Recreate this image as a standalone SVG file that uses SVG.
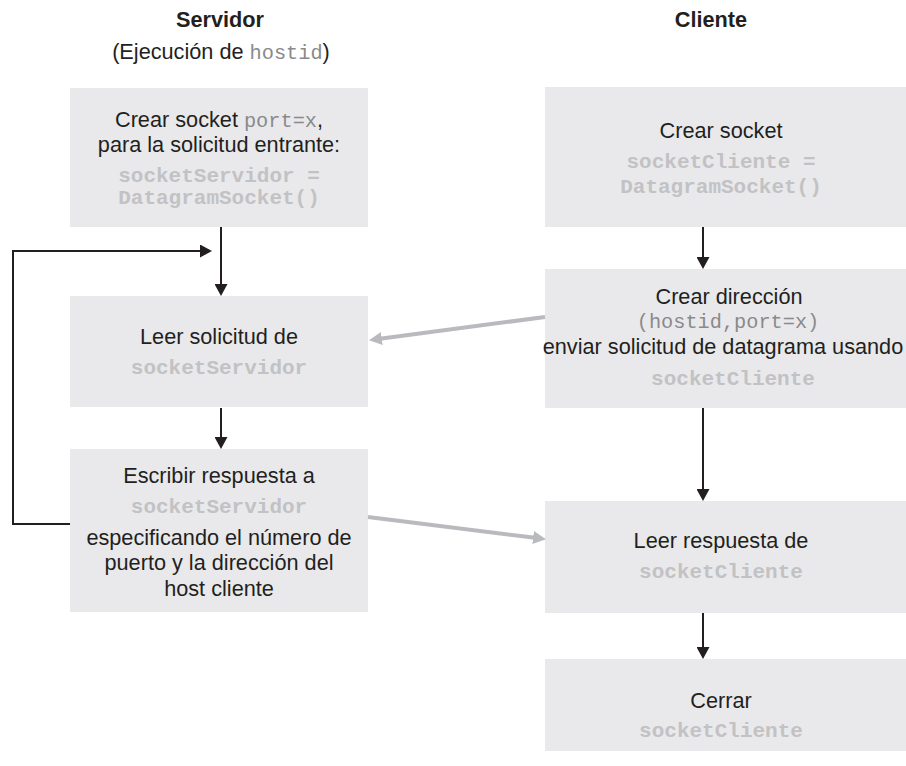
<svg xmlns="http://www.w3.org/2000/svg" width="906" height="766" viewBox="0 0 906 766">
<style>
.box{fill:#e9e9eb}
.t{font-family:"Liberation Sans",Arial,sans-serif;font-size:21.7px;fill:#231f20;text-anchor:middle}
.h{font-weight:bold}
.m{font-family:"Liberation Mono","Courier New",monospace;font-size:21px;fill:#c2c2c4;font-weight:bold;text-anchor:middle}
.mr{font-family:"Liberation Mono","Courier New",monospace;font-size:20.3px;fill:#8a8a8c;font-weight:normal}
.bl{fill:none;stroke:#231f20;stroke-width:2}
.gr{fill:none;stroke:#b9babe;stroke-width:4}
</style>
<defs>
<marker id="ab" markerUnits="userSpaceOnUse" markerWidth="12" markerHeight="13" refX="2" refY="6.5" orient="auto"><path d="M0,0 L12,6.5 L0,13 z" fill="#231f20"/></marker>
<marker id="ag" markerUnits="userSpaceOnUse" markerWidth="13" markerHeight="13" refX="2" refY="6.5" orient="auto"><path d="M0,0 L13,6.5 L0,13 z" fill="#b9babe"/></marker>
</defs>
<g id="headers">
<text class="t h" x="220" y="27">Servidor</text>
<text class="t" x="221" y="59">(Ejecución de <tspan class="mr">hostid</tspan>)</text>
<text class="t h" x="711" y="27">Cliente</text>
</g>
<g id="s1">
<rect class="box" x="70" y="88" width="298" height="139"/>
<text class="t" x="219" y="127">Crear socket <tspan class="mr">port=x</tspan>,</text>
<text class="t" x="219" y="152">para la solicitud entrante:</text>
<text class="m" x="219" y="182">socketServidor =</text>
<text class="m" x="219" y="204">DatagramSocket()</text>
</g>
<g id="s2">
<rect class="box" x="70" y="296" width="298" height="111"/>
<text class="t" x="219" y="344">Leer solicitud de</text>
<text class="m" x="219" y="374">socketServidor</text>
</g>
<g id="s3">
<rect class="box" x="70" y="449" width="298" height="163"/>
<text class="t" x="219" y="483">Escribir respuesta a</text>
<text class="m" x="219" y="513">socketServidor</text>
<text class="t" x="219" y="545">especificando el número de</text>
<text class="t" x="219" y="570">puerto y la dirección del</text>
<text class="t" x="219" y="596">host cliente</text>
</g>
<g id="c1">
<rect class="box" x="545" y="87" width="361" height="140"/>
<text class="t" x="721" y="138">Crear socket</text>
<text class="m" x="721" y="168">socketCliente =</text>
<text class="m" x="721" y="193">DatagramSocket()</text>
</g>
<g id="c2">
<rect class="box" x="545" y="269" width="361" height="139"/>
<text class="t" x="729" y="304">Crear dirección</text>
<text class="t" x="728" y="328"><tspan class="mr">(hostid,port=x)</tspan></text>
<text class="t" x="723" y="354">enviar solicitud de datagrama usando</text>
<text class="m" x="733" y="385">socketCliente</text>
</g>
<g id="c3">
<rect class="box" x="545" y="501" width="361" height="112"/>
<text class="t" x="721" y="548">Leer respuesta de</text>
<text class="m" x="721" y="578">socketCliente</text>
</g>
<g id="c4">
<rect class="box" x="545" y="659" width="361" height="92"/>
<text class="t" x="721" y="708">Cerrar</text>
<text class="m" x="721" y="737">socketCliente</text>
</g>
<g id="connectors">
<path class="bl" d="M221,227 V286" marker-end="url(#ab)"/>
<path class="bl" d="M70,524 H13 V251 H202" stroke-width="1.6" marker-end="url(#ab)"/>
<path class="bl" d="M221,408 V439" stroke-width="1.6" marker-end="url(#ab)"/>
<path class="bl" d="M703,227 V259" marker-end="url(#ab)"/>
<path class="bl" d="M703,408 V491" marker-end="url(#ab)"/>
<path class="bl" d="M703,613 V649" stroke-width="1.6" marker-end="url(#ab)"/>
<path class="gr" d="M545,317 L379.9,338.7" marker-end="url(#ag)"/>
<path class="gr" d="M368,517 L535.1,537.8" marker-end="url(#ag)"/>
</g>
</svg>
